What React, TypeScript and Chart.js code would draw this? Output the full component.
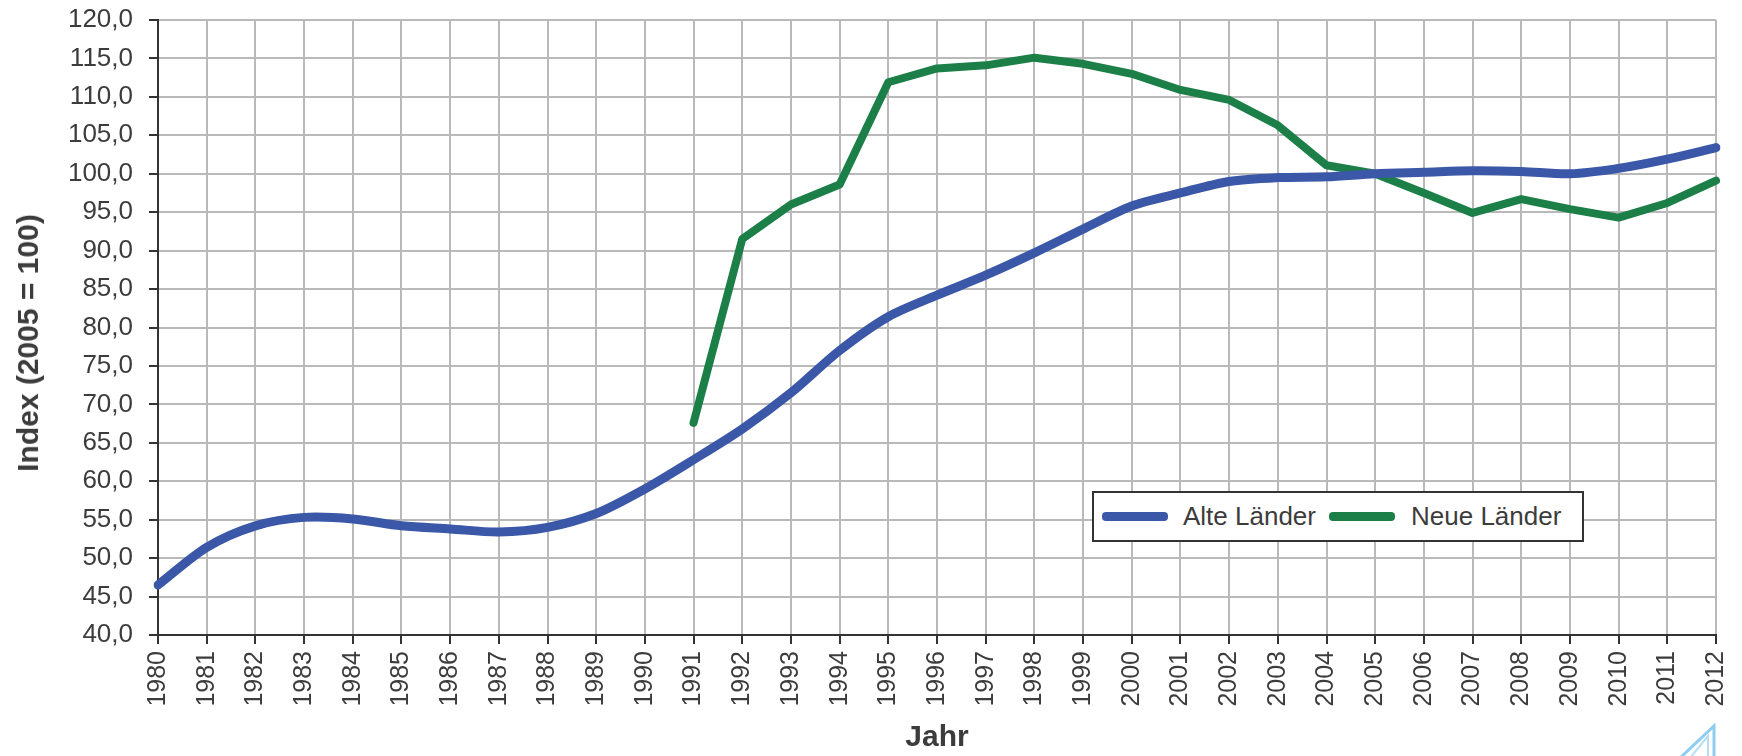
import React, { useEffect, useRef } from "react";
import { Chart, registerables } from "chart.js";

Chart.register(...registerables);

const years: string[] = [
  "1980", "1981", "1982", "1983", "1984", "1985", "1986", "1987", "1988", "1989",
  "1990", "1991", "1992", "1993", "1994", "1995", "1996", "1997", "1998", "1999",
  "2000", "2001", "2002", "2003", "2004", "2005", "2006", "2007", "2008", "2009",
  "2010", "2011", "2012",
];

const alteLaender: number[] = [
  46.5, 51.4, 54.2, 55.3, 55.1, 54.2, 53.8, 53.4, 54.0, 55.8,
  59.0, 62.8, 66.8, 71.5, 77.0, 81.4, 84.2, 86.8, 89.7, 92.8,
  95.8, 97.5, 99.0, 99.5, 99.6, 100.0, 100.2, 100.4, 100.3, 100.0,
  100.7, 101.9, 103.4,
];

const neueLaender: (number | null)[] = [
  null, null, null, null, null, null, null, null, null, null,
  null, 67.6, 91.5, 96.0, 98.6, 111.9, 113.7, 114.1, 115.1, 114.3,
  113.0, 110.9, 109.6, 106.3, 101.1, 100.0, 97.5, 94.9, 96.7, 95.4,
  94.3, 96.2, 99.1,
];

const seriesNames: string[] = ["Alte Länder", "Neue Länder"];
const seriesColors: string[] = ["#3b57a7", "#1b7f47"];
const yTitle = "Index (2005 = 100)";
const xTitle = "Jahr";

const FONT = "'Liberation Sans', Arial, Helvetica, sans-serif";
const TEXT = "#3c3c3c";

export default function App() {
  const ref = useRef<HTMLCanvasElement | null>(null);

  useEffect(() => {
    if (!ref.current) return;
    const chart = new Chart(ref.current, {
      type: "line",
      data: {
        labels: years,
        datasets: [
          {
            label: seriesNames[0],
            data: alteLaender,
            borderColor: seriesColors[0],
            backgroundColor: seriesColors[0],
            borderWidth: 9,
            pointRadius: 0,
            tension: 0.3,
            borderCapStyle: "round",
            borderJoinStyle: "round",
          },
          {
            label: seriesNames[1],
            data: neueLaender,
            borderColor: seriesColors[1],
            backgroundColor: seriesColors[1],
            borderWidth: 8,
            pointRadius: 0,
            tension: 0,
            spanGaps: false,
            borderCapStyle: "round",
            borderJoinStyle: "round",
          },
        ],
      },
      options: {
        animation: false,
        responsive: false,
        layout: { padding: { top: 20, right: 26, left: 0, bottom: 0 } },
        plugins: {
          legend: { display: false },
          tooltip: { enabled: false },
        },
        scales: {
          x: {
            type: "category",
            offset: false,
            grid: {
              color: "#b9b9b9",
              lineWidth: 2,
              tickColor: "#333333",
              tickLength: 9,
              tickWidth: 2,
            },
            border: { color: "#333333", width: 2 },
            ticks: {
              minRotation: 90,
              maxRotation: 90,
              autoSkip: false,
              padding: 7,
              color: TEXT,
              font: { family: FONT, size: 25 },
            },
            title: {
              display: true,
              text: xTitle,
              color: TEXT,
              font: { family: FONT, size: 30, weight: "bold" },
              padding: { top: 0, bottom: 0 },
            },
            afterFit: (scale: any) => {
              scale.height = 121;
              scale.paddingLeft = 0;
              scale.paddingRight = 0;
            },
          },
          y: {
            min: 40,
            max: 120,
            grid: {
              color: "#b9b9b9",
              lineWidth: 2,
              tickColor: "#333333",
              tickLength: 9,
              tickWidth: 2,
            },
            border: { color: "#333333", width: 2 },
            ticks: {
              stepSize: 5,
              padding: 16,
              color: TEXT,
              font: { family: FONT, size: 26 },
              callback: (v: any) => Number(v).toFixed(1).replace(".", ","),
            },
            title: { display: false },
            afterFit: (scale: any) => {
              scale.width = 158;
              scale.paddingTop = 0;
              scale.paddingBottom = 0;
            },
          },
        },
      },
    });
    return () => chart.destroy();
  }, []);

  const legendText: React.CSSProperties = {
    position: "absolute",
    top: 0,
    lineHeight: "47px",
    fontFamily: FONT,
    fontSize: 26,
    color: TEXT,
    whiteSpace: "nowrap",
  };
  const swatch = (color: string, left: number): React.CSSProperties => ({
    position: "absolute",
    left,
    top: 19,
    width: 66,
    height: 9,
    borderRadius: 4,
    background: color,
  });

  return (
    <div
      style={{
        position: "fixed",
        left: 0,
        top: 0,
        width: 1742,
        height: 756,
        background: "#ffffff",
        overflow: "hidden",
      }}
    >
      <canvas ref={ref} width={1742} height={756} style={{ display: "block" }} />
      <div
        style={{
          position: "absolute",
          left: 28,
          top: 343,
          width: 0,
          height: 0,
        }}
      >
        <div
          style={{
            position: "absolute",
            left: 0,
            top: 0,
            transform: "translate(-50%, -50%) rotate(-90deg)",
            fontFamily: FONT,
            fontSize: 30,
            fontWeight: "bold",
            color: TEXT,
            whiteSpace: "nowrap",
            lineHeight: "36px",
          }}
        >
          {yTitle}
        </div>
      </div>
      <div
        style={{
          position: "absolute",
          left: 1092,
          top: 491,
          width: 492,
          height: 51,
          boxSizing: "border-box",
          border: "2px solid #333333",
          background: "#ffffff",
        }}
      >
        <div style={swatch(seriesColors[0], 8)} />
        <div style={{ ...legendText, left: 89 }}>{seriesNames[0]}</div>
        <div style={swatch(seriesColors[1], 235)} />
        <div style={{ ...legendText, left: 317 }}>{seriesNames[1]}</div>
      </div>
      <svg
        style={{ position: "absolute", left: 1670, top: 718 }}
        width={60}
        height={38}
      >
        <polygon points="44,8 44,40 10,40" fill="none" stroke="#8fcdf0" strokeWidth={3} />
        <polygon points="38,18 38,40 20,40" fill="none" stroke="#b5def5" strokeWidth={2} />
      </svg>
    </div>
  );
}
